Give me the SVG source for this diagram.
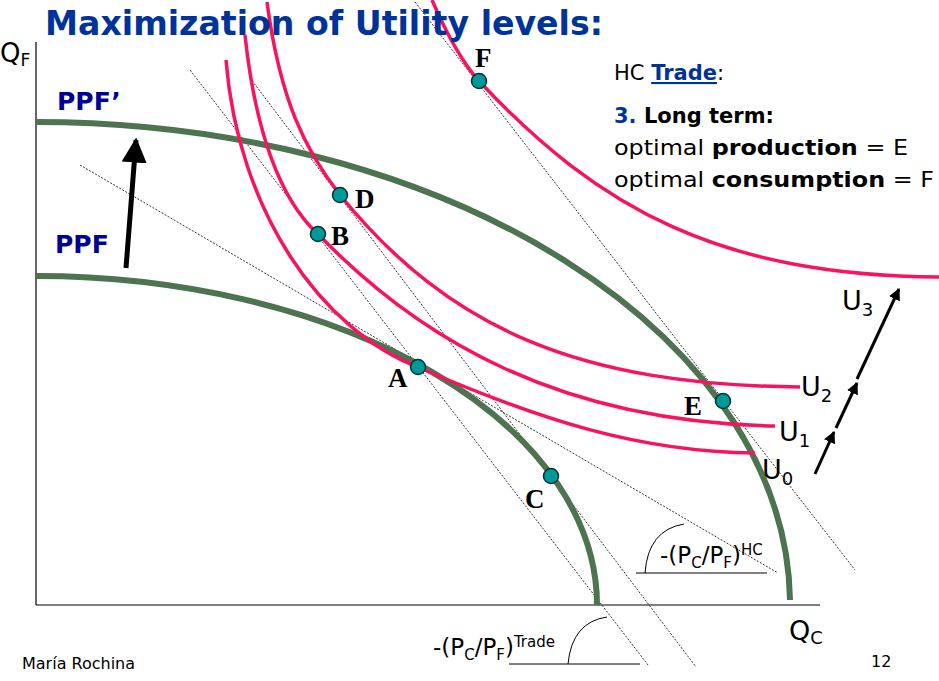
<svg xmlns="http://www.w3.org/2000/svg" width="939" height="681" viewBox="0 0 939 681">
<defs>
<marker id="ah" viewBox="0 0 10 10" refX="9" refY="5" markerWidth="5" markerHeight="5" orient="auto"><path d="M0,0 L10,5 L0,10 z" fill="#000"/></marker>
<marker id="ahs" viewBox="0 0 10 10" refX="9" refY="5" markerWidth="4" markerHeight="4" orient="auto"><path d="M0,0 L10,5 L0,10 z" fill="#000"/></marker>
</defs>
<style>
.ppf{fill:none;stroke:#4e7350;stroke-width:6}
.u{fill:none;stroke:#f7135e;stroke-width:3.5}
.dl{stroke:#000;stroke-width:0.8;stroke-dasharray:2,1.5;fill:none}
.pt{fill:#009999;stroke:#003333;stroke-width:1.5}
.pl{font-family:"Liberation Serif",serif;font-weight:bold;font-size:27px;fill:#000}
.s{font-family:"DejaVu Sans",sans-serif;fill:#000}
.ppfl{font-family:"DejaVu Sans",sans-serif;font-weight:bold;font-size:25px;fill:#000099}
</style>
<rect width="939" height="681" fill="#fff"/>
<g id="axes" stroke="#000" stroke-width="1.2">
<line x1="36" y1="42" x2="36" y2="605"/>
<line x1="36" y1="605" x2="820" y2="605"/>
</g>
<g id="connectors">
<line class="dl" x1="80" y1="165" x2="778" y2="573"/>
<line class="dl" x1="190" y1="70" x2="648" y2="665"/>
<line class="dl" x1="250" y1="78" x2="696" y2="667"/>
<line class="dl" x1="415" y1="2" x2="855" y2="570"/>
<line x1="636" y1="573" x2="767" y2="573" stroke="#000" stroke-width="1"/>
<path d="M645,573 Q648,530 684,524" fill="none" stroke="#000" stroke-width="1"/>
<line x1="509" y1="664" x2="640" y2="664" stroke="#000" stroke-width="1"/>
<path d="M568,664 Q572,622 607,617" fill="none" stroke="#000" stroke-width="1"/>
<line x1="126" y1="268" x2="136" y2="140" stroke="#000" stroke-width="5" marker-end="url(#ah)"/>
<line x1="815" y1="474" x2="834" y2="432" stroke="#000" stroke-width="3" marker-end="url(#ahs)"/>
<line x1="836" y1="428" x2="857" y2="383" stroke="#000" stroke-width="3" marker-end="url(#ahs)"/>
<line x1="857" y1="379" x2="899" y2="289" stroke="#000" stroke-width="3" marker-end="url(#ahs)"/>
</g>
<g id="PPF"><path class="ppf" d="M36,276 A561,329 0 0 1 597,605"/></g>
<g id="PPF2"><path class="ppf" d="M36,122 A754,483 0 0 1 790,600"/></g>
<g id="U0"><path class="u" d="M226,60 C238,210 320,330 420,368 C540,420 640,452 755,453"/></g>
<g id="U1"><path class="u" d="M245,35 C255,130 280,200 318,234 C420,340 560,422 775,426"/></g>
<g id="U2"><path class="u" d="M267,2 C280,100 305,150 340,195 C450,330 580,385 800,387"/></g>
<g id="U3"><path class="u" d="M432,0 C445,30 460,60 479,81 C600,210 720,275 939,277"/></g>
<g id="points">
<circle class="pt" cx="479" cy="81" r="7.5"/><text class="pl" x="475" y="67">F</text>
<circle class="pt" cx="340" cy="195" r="7.5"/><text class="pl" x="355" y="208">D</text>
<circle class="pt" cx="318" cy="234" r="7.5"/><text class="pl" x="331" y="245">B</text>
<circle class="pt" cx="418" cy="367" r="7.5"/><text class="pl" x="388" y="387">A</text>
<circle class="pt" cx="723" cy="401" r="7.5"/><text class="pl" x="684" y="415">E</text>
<circle class="pt" cx="551" cy="476" r="7.5"/><text class="pl" x="525" y="508">C</text>
</g>
<g id="labels">
<text x="45" y="35" font-family="DejaVu Sans,sans-serif" font-weight="bold" font-size="33" fill="#003399" textLength="558" lengthAdjust="spacingAndGlyphs">Maximization of Utility levels:</text>
<text class="s" x="0" y="62" font-size="26">Q<tspan font-size="17" dy="4">F</tspan></text>
<text class="ppfl" x="57" y="110">PPF’</text>
<text class="ppfl" x="55" y="253">PPF</text>
<text class="s" x="614" y="80" font-size="21">HC <tspan font-weight="bold" fill="#003399" text-decoration="underline">Trade</tspan>:</text>
<text class="s" x="614" y="123" font-size="21" font-weight="bold"><tspan fill="#003399">3.</tspan> Long term:</text>
<text class="s" x="614" y="155" font-size="21" textLength="294" lengthAdjust="spacingAndGlyphs">optimal <tspan font-weight="bold">production</tspan> = E</text>
<text class="s" x="614" y="187" font-size="21" textLength="320" lengthAdjust="spacingAndGlyphs">optimal <tspan font-weight="bold">consumption</tspan> = F</text>
<text class="s" x="842" y="310" font-size="27">U<tspan font-size="18" dy="6">3</tspan></text>
<text class="s" x="801" y="396" font-size="27">U<tspan font-size="18" dy="6">2</tspan></text>
<text class="s" x="779" y="441" font-size="27">U<tspan font-size="18" dy="6">1</tspan></text>
<text class="s" x="762" y="479" font-size="27">U<tspan font-size="18" dy="6">0</tspan></text>
<text class="s" x="789" y="640" font-size="27">Q<tspan font-size="18" dy="4">C</tspan></text>
<text class="s" x="660" y="563" font-size="23">-(P<tspan font-size="15" dy="5">C</tspan><tspan dy="-5">/P</tspan><tspan font-size="15" dy="5">F</tspan><tspan dy="-5">)</tspan><tspan font-size="15" dy="-8">HC</tspan></text>
<text class="s" x="433" y="655" font-size="23">-(P<tspan font-size="15" dy="5">C</tspan><tspan dy="-5">/P</tspan><tspan font-size="15" dy="5">F</tspan><tspan dy="-5">)</tspan><tspan font-size="15" dy="-8">Trade</tspan></text>
<text class="s" x="22" y="669" font-size="16">María Rochina</text>
<text class="s" x="871" y="667" font-size="16">12</text>
</g>
</svg>
